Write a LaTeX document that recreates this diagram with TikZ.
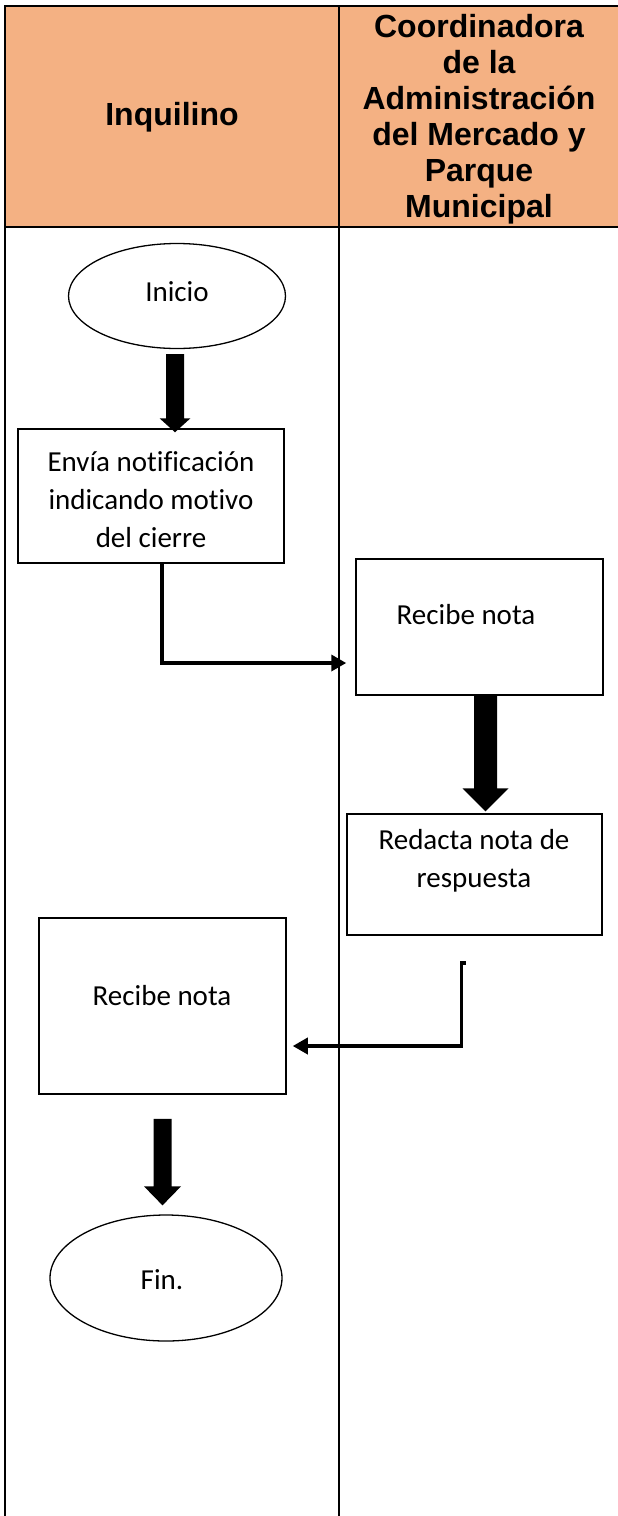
\documentclass[tikz,border=0pt]{standalone}
\usepackage{fontspec}
\setmainfont{Carlito}[Ligatures=NoCommon]
\newfontfamily\headfont{Liberation Sans}
\usetikzlibrary{arrows.meta,calc,shapes.geometric}
\definecolor{headfill}{HTML}{F4B183}
\newcommand\fatarrow[5]{%
  \fill let \p1=#1, \p2=#2 in
    (\x1-#3pt,\y1) -- (\x1+#3pt,\y1) -- (\x1+#3pt,\y2+#5pt) -- (\x1+#4pt,\y2+#5pt)
    -- (\x1,\y2) -- (\x1-#4pt,\y2+#5pt) -- (\x1-#3pt,\y2+#5pt) -- cycle;}
\tikzset{
  lane/.style={line width=2.5pt},
  headtxt/.style={font=\headfont\bfseries\fontsize{32}{36}\selectfont, align=center, inner sep=0pt},
  bodytxt/.style={font=\fontsize{29}{38}\selectfont, align=center, inner sep=0pt},
  term/.style={draw, ellipse, line width=1.3pt, inner sep=0pt},
  conn/.style={line width=3.5pt, -{Triangle[width=16pt,length=15pt]}},
}
\begin{document}
\begin{tikzpicture}[x=1pt,y=-1pt]
\useasboundingbox (0,0) rectangle (618,1516);
% header
\fill[headfill] (5,6) rectangle (620,227);
\draw[lane] (5,6) -- (620,6);
\draw[lane] (5,227) -- (620,227);
\draw[lane] (5,5) -- (5,1518);
\draw[lane] (339,5) -- (339,1518);
\node[headtxt] (h1) at (172,117) {Inquilino};
\node[headtxt] (h2) at (479,119) {Coordinadora\\de la\\Administración\\del Mercado y\\Parque\\Municipal};
% shapes
\node[term, minimum width=217pt, minimum height=105pt] (inicio) at (177,296) {};
\node[bodytxt] (tinicio) at (177,292) {Inicio};
\node[draw, line width=1.5pt, minimum width=266pt, minimum height=134pt, inner sep=0pt] (box1) at (151,496) {};
\node[bodytxt] (t1) at (151,500) {Envía notificación\\indicando motivo\\del cierre};
\node[draw, line width=1.5pt, minimum width=247pt, minimum height=136pt, inner sep=0pt] (box2) at (479.5,627) {};
\node[bodytxt] (t2) at (466,615) {Recibe nota};
\node[draw, line width=1.5pt, minimum width=255pt, minimum height=121pt, inner sep=0pt] (box3) at (474.5,874.5) {};
\node[bodytxt] (t3) at (474,861) {Redacta nota de\\respuesta};
\node[draw, line width=1.5pt, minimum width=247pt, minimum height=176pt, inner sep=0pt] (box4) at (162.5,1006) {};
\node[bodytxt] (t4) at (162,996) {Recibe nota};
\node[term, minimum width=232pt, minimum height=126pt] (fin) at (166,1278) {};
\node[bodytxt] (tfin) at (162,1280) {Fin.};
% fat arrows
\fatarrow{($(inicio.south)+(-2,5)$)}{($(inicio.south |- box1.north)+(-2,4)$)}{9}{15.5}{14}
\fatarrow{($(box2.south)+(6,0)$)}{($(box2.south |- box3.north)+(6,-2)$)}{11.5}{23}{23}
\fatarrow{($(box4.south)+(0,24)$)}{($(box4.south |- fin.north)+(0,-9)$)}{9}{18.5}{19}
% connectors
\draw[conn] ($(box1.south)+(11,0)$) |- ($(box2.west)+(-9,36)$);
\draw[conn] ($(box3.south)+(-9,27)$) -- ++(-4,0) |- ($(box4.east)+(6,40)$);
\end{tikzpicture}
\end{document}
